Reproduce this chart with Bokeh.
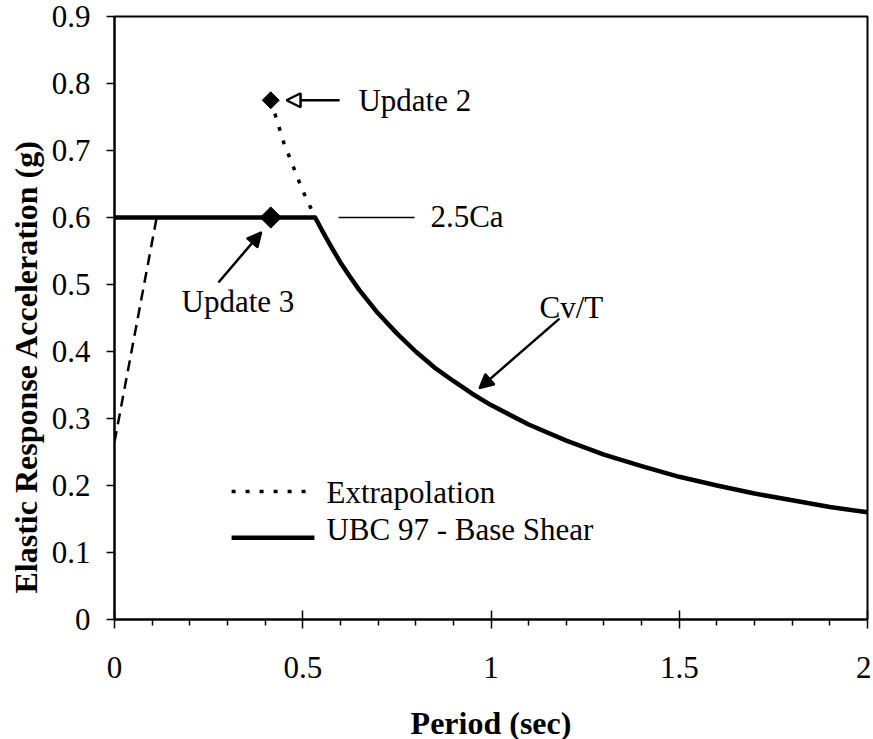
import math
from bokeh.plotting import figure
from bokeh.models import Range1d, FixedTicker, Label, Arrow, NormalHead, Title
from bokeh.embed import file_html
from bokeh.resources import INLINE

# ---- data ----
ubc_T = [0.0, 0.533, 0.55, 0.575, 0.6, 0.625, 0.65, 0.7, 0.75, 0.8, 0.85, 0.9, 0.95, 1.0,
         1.1, 1.2, 1.3, 1.4, 1.5, 1.6, 1.7, 1.8, 1.9, 2.0]
ubc_A = [0.6, 0.6, 0.582, 0.557, 0.533, 0.512, 0.492, 0.457, 0.427, 0.40, 0.376, 0.356, 0.337, 0.32,
         0.291, 0.267, 0.246, 0.229, 0.213, 0.20, 0.188, 0.178, 0.168, 0.16]

ramp_T = [0.0, 0.112]
ramp_A = [0.265, 0.6]

extrap_T = [0.415, 0.45, 0.5, 0.533]
extrap_A = [0.775, 0.711, 0.64, 0.6]

update2_T = [0.415]
update2_A = [0.775]
update3_T = [0.415]
update3_A = [0.6]

x_ticks = [0, 0.5, 1, 1.5, 2]
x_tick_labels = ["0", "0.5", "1", "1.5", "2"]
x_minor = [0.1, 0.2, 0.3, 0.4, 0.6, 0.7, 0.8, 0.9, 1.1, 1.2, 1.3, 1.4, 1.6, 1.7, 1.8, 1.9]
y_ticks = [0, 0.1, 0.2, 0.3, 0.4, 0.5, 0.6, 0.7, 0.8, 0.9]
y_tick_labels = ["0", "0.1", "0.2", "0.3", "0.4", "0.5", "0.6", "0.7", "0.8", "0.9"]

FONT = "Liberation Serif"
FS = "31px"

p = figure(frame_width=753, frame_height=603, output_backend="svg", toolbar_location=None,
           x_range=Range1d(0, 2), y_range=Range1d(0, 0.9),
           min_border_left=113, min_border_right=4, min_border_top=16, min_border_bottom=116)
p.grid.visible = False
p.outline_line_color = "black"
p.outline_line_width = 2
p.outline_line_alpha = 1.0

# axes
p.xaxis.ticker = FixedTicker(ticks=x_ticks, minor_ticks=x_minor)
p.xaxis.major_label_overrides = {t: l for t, l in zip(x_ticks, x_tick_labels)}
p.yaxis.ticker = FixedTicker(ticks=y_ticks, minor_ticks=[])
p.yaxis.major_label_overrides = {t: l for t, l in zip(y_ticks, y_tick_labels)}
for ax in (p.xaxis, p.yaxis):
    ax.axis_line_color = "black"
    ax.axis_line_width = 2
    ax.major_tick_line_color = "black"
    ax.major_tick_line_width = 1.5
    ax.minor_tick_line_color = "black"
    ax.minor_tick_line_width = 1.5
    ax.major_label_text_font = FONT
    ax.major_label_text_font_size = FS
    ax.major_label_text_color = "black"
p.xaxis.major_tick_in = 9
p.xaxis.major_tick_out = 9
p.xaxis.minor_tick_in = 0
p.xaxis.minor_tick_out = 6
p.xaxis.major_label_standoff = 28
p.yaxis.major_tick_in = 0
p.yaxis.major_tick_out = 8
p.yaxis.major_label_standoff = 16

p.xaxis.axis_label = "Period (sec)"
p.xaxis.axis_label_text_font = FONT
p.xaxis.axis_label_text_font_size = "32px"
p.xaxis.axis_label_text_font_style = "bold"
p.xaxis.axis_label_text_color = "black"
p.xaxis.axis_label_standoff = 24

ytitle = Title(text="Elastic Response Acceleration (g)", text_font=FONT,
               text_font_size="32px", text_font_style="bold", text_color="black",
               align="left", offset=26, standoff=10)
p.add_layout(ytitle, "left")

# data lines
p.line(ramp_T, ramp_A, line_color="black", line_width=2.5, line_dash="11 7")
p.line(extrap_T, extrap_A, line_color="black", line_width=3.5, line_dash="4 10")
p.line(ubc_T, ubc_A, line_color="black", line_width=4.5, line_join="round")
p.scatter(update2_T, update2_A, marker="square", angle=math.pi / 4, size=12,
          fill_color="black", line_color="black")
p.scatter(update3_T, update3_A, marker="square", angle=math.pi / 4, size=15,
          fill_color="black", line_color="black")

# legend drawn by hand
p.line([0.311, 0.531], [0.191, 0.191], line_color="black", line_width=3.5, line_dash="4 10")
p.line([0.311, 0.531], [0.122, 0.122], line_color="black", line_width=4.5)

# 2.5Ca leader line
p.line([0.595, 0.797], [0.6, 0.6], line_color="black", line_width=1.5)

def lab(x, y, text, **kw):
    opts = dict(text_font=FONT, text_font_size=FS, text_color="black",
                text_baseline="alphabetic", text_align="left")
    opts.update(kw)
    p.add_layout(Label(x=x, y=y, text=text, **opts))

lab(0.563, 0.190, "Extrapolation")
lab(0.563, 0.135, "UBC 97 - Base Shear")
lab(0.648, 0.774, "Update 2")
lab(0.839, 0.602, "2.5Ca")
lab(0.178, 0.474, "Update 3")
lab(1.129, 0.466, "Cv/T")

# arrows
p.add_layout(Arrow(end=NormalHead(size=14, fill_color="white", line_color="black", line_width=2.5),
                   x_start=0.598, y_start=0.775, x_end=0.457, y_end=0.775,
                   line_color="black", line_width=2.5))
p.add_layout(Arrow(end=NormalHead(size=14, fill_color="black", line_color="black", line_width=2),
                   x_start=0.276, y_start=0.503, x_end=0.390, y_end=0.578,
                   line_color="black", line_width=2.5))
p.add_layout(Arrow(end=NormalHead(size=14, fill_color="black", line_color="black", line_width=2),
                   x_start=1.182, y_start=0.449, x_end=0.969, y_end=0.345,
                   line_color="black", line_width=2.5))

open("out.html", "w").write(file_html(p, INLINE))
